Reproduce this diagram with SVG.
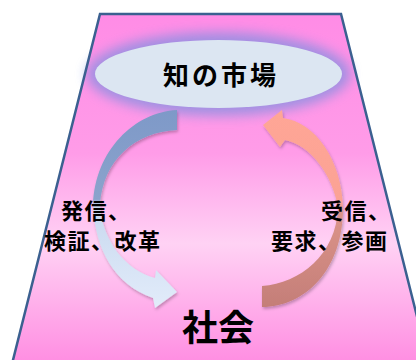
<svg xmlns="http://www.w3.org/2000/svg" width="416" height="360" viewBox="0 0 416 360">
<defs>
<linearGradient id="bg" x1="0" y1="14" x2="0" y2="362" gradientUnits="userSpaceOnUse">
<stop offset="0" stop-color="#FF8CE6"/>
<stop offset="0.4" stop-color="#FF9CE8"/>
<stop offset="0.66" stop-color="#FFD2F4"/>
<stop offset="1" stop-color="#FF8EE2"/>
</linearGradient>
<linearGradient id="gl" x1="0" y1="110" x2="0" y2="308" gradientUnits="userSpaceOnUse">
<stop offset="0" stop-color="#7E99C8"/>
<stop offset="0.45" stop-color="#8BA3CC"/>
<stop offset="0.49" stop-color="#C8D8EF"/>
<stop offset="1" stop-color="#E2ECFA"/>
</linearGradient>
<linearGradient id="gr" x1="0" y1="110" x2="0" y2="307" gradientUnits="userSpaceOnUse">
<stop offset="0" stop-color="#FFA696"/>
<stop offset="0.47" stop-color="#FBA294"/>
<stop offset="0.52" stop-color="#DC948A"/>
<stop offset="1" stop-color="#C47E78"/>
</linearGradient>
<filter id="blur" x="-30%" y="-60%" width="160%" height="220%">
<feGaussianBlur stdDeviation="6"/>
</filter>
<filter id="sh" x="-20%" y="-20%" width="140%" height="140%">
<feDropShadow dx="1" dy="2" stdDeviation="1.5" flood-color="#000" flood-opacity="0.25"/>
</filter>
<style>
.t{font-family:"Noto Sans CJK JP","Noto Sans CJK SC",sans-serif;font-weight:bold;fill:#000}
</style>
</defs>
<polygon points="100,14 341,14 429,364 12,364" fill="url(#bg)"/>
<g id="market">
<ellipse cx="218.5" cy="74" rx="132" ry="42" fill="#6F8FE0" opacity="0.65" filter="url(#blur)"/>
<ellipse cx="218.5" cy="74" rx="123.5" ry="34" fill="#DCE6F2"/>
<text class="t" x="221" y="85" font-size="26" letter-spacing="3" text-anchor="middle">知の市場</text>
</g>
<polygon points="100,14 341,14 429,364 12,364" fill="none" stroke="#3B6090" stroke-width="2.5" stroke-linejoin="miter"/>
<g id="connectors">
<path filter="url(#sh)" fill="url(#gl)" d="M177,110 C135,112 95,150 93,205 C95,250 115,285 153,298 L155,308 L177,292 L156,270 L155,278 C125,270 102,240 100,205 C103,160 135,132 177,130 Z"/>
<path filter="url(#sh)" fill="url(#gr)" d="M262,307 C305,307 343,270 343,208 C342,160 315,122 283,118 L282,110 L263,125 L280,147 L285,140 C310,145 333,175 338,208 C336,255 300,283 262,286 Z"/>
<text class="t" font-size="22" letter-spacing="1.5"><tspan x="61" y="219">発信、</tspan><tspan x="44" y="249">検証、改革</tspan></text>
<text class="t" font-size="22" letter-spacing="1.5"><tspan x="321" y="219">受信、</tspan><tspan x="271" y="249">要求、参画</tspan></text>
</g>
<g id="society">
<text class="t" x="218" y="341" font-size="36" text-anchor="middle">社会</text>
</g>
</svg>
